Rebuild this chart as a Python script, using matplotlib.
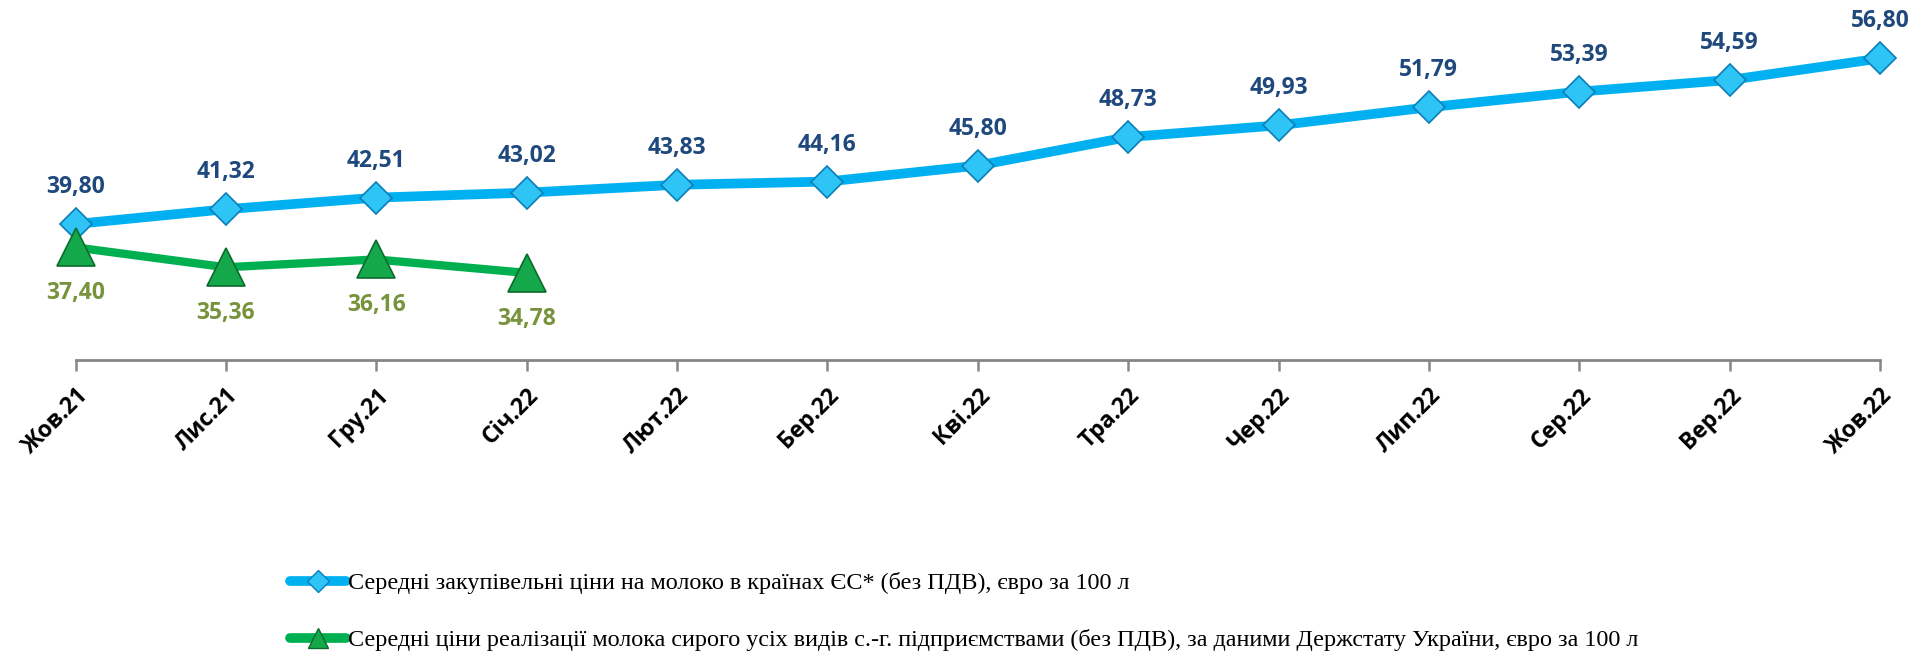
import matplotlib

matplotlib.use('Agg')
import matplotlib.pyplot as plt
from matplotlib.lines import Line2D

months = ['Жов.21', 'Лис.21', 'Гру.21', 'Січ.22', 'Лют.22', 'Бер.22', 'Кві.22',
          'Тра.22', 'Чер.22', 'Лип.22', 'Сер.22', 'Вер.22', 'Жов.22']
eu_prices = [39.80, 41.32, 42.51, 43.02, 43.83, 44.16, 45.80,
             48.73, 49.93, 51.79, 53.39, 54.59, 56.80]
ua_prices = [37.40, 35.36, 36.16, 34.78]

eu_label = 'Середні закупівельні ціни на молоко в країнах ЄС* (без ПДВ), євро за 100 л'
ua_label = ('Середні ціни реалізації молока сирого усіх видів с.-г. підприємствами '
            '(без ПДВ), за даними Держстату України, євро за 100 л')

BLUE = '#00B0F0'
GREEN = '#00B050'
NAVY = '#1F497D'
OLIVE = '#77933C'
FONT = 'Open Sans'


def fmt(v):
    return f'{v:.2f}'.replace('.', ',')


fig = plt.figure(figsize=(19.1, 6.54), dpi=100)
ax = fig.add_axes([75.5 / 1910, 1 - 360 / 654, (1880 - 75.5) / 1910, 360 / 654])

x_eu = list(range(len(eu_prices)))
x_ua = list(range(len(ua_prices)))

ax.plot(x_eu, eu_prices, color=BLUE, lw=7, marker='D', ms=16,
        markerfacecolor='#2EC4F5', markeredgecolor='#0A7FB8', markeredgewidth=1.2,
        solid_capstyle='round', zorder=3, clip_on=False)
ax.plot(x_ua, ua_prices, color=GREEN, lw=6, marker='^', ms=27,
        markerfacecolor='#14A84A', markeredgecolor='#0B6B2C', markeredgewidth=1.2,
        zorder=4, clip_on=False)

for x, v in zip(x_eu, eu_prices):
    ax.annotate(fmt(v), (x, v), xytext=(0, 37), textcoords='offset pixels',
                ha='center', va='center', fontsize=16.5, fontweight='bold',
                family=FONT, color=NAVY)
for x, v in zip(x_ua, ua_prices):
    ax.annotate(fmt(v), (x, v), xytext=(0, -46), textcoords='offset pixels',
                ha='center', va='center', fontsize=16.5, fontweight='bold',
                family=FONT, color=OLIVE)

ax.set_xlim(0, len(months) - 1)
ax.set_ylim(25.84, 62.8)
ax.set_xticks(x_eu)
ax.set_xticklabels(months, rotation=45, ha='right', rotation_mode='anchor',
                   fontsize=16.5, fontweight='bold', family=FONT)
ax.tick_params(axis='x', length=8, width=1.8, color='#868686', pad=9)
ax.set_yticks([])
for side in ['top', 'right', 'left']:
    ax.spines[side].set_visible(False)
ax.spines['bottom'].set_color('#868686')
ax.spines['bottom'].set_linewidth(2)
ax.patch.set_visible(False)

handles = [
    Line2D([], [], color=BLUE, lw=7, marker='D', ms=11, markerfacecolor='#2EC4F5',
           markeredgecolor='#0A7FB8', solid_capstyle='round'),
    Line2D([], [], color=GREEN, lw=7, marker='^', ms=15, markerfacecolor='#14A84A',
           markeredgecolor='#0B6B2C', solid_capstyle='round'),
]
fig.legend(handles, [eu_label, ua_label], loc='upper left',
           bbox_to_anchor=(290 / 1910, 1 - 572 / 654), frameon=False,
           prop={'family': 'Liberation Serif', 'size': 17.4},
           handlelength=2.3, handletextpad=0.1, labelspacing=1.45,
           borderaxespad=0, borderpad=0)

fig.savefig('out.png', dpi=100)
